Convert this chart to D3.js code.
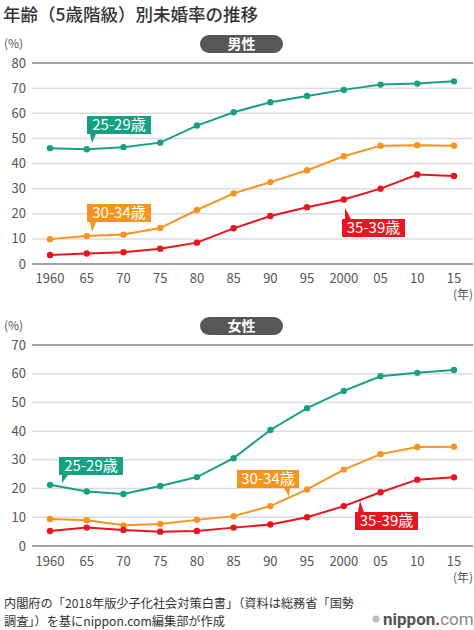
<!DOCTYPE html>
<html><head><meta charset="utf-8">
<script src="https://cdn.jsdelivr.net/npm/d3@7"></script>
<style>
html,body{margin:0;padding:0;background:#fff;}
svg{display:block;font-family:"Noto Sans CJK JP","Noto Sans",sans-serif;}
</style></head>
<body>
<svg id="c" width="474" height="630"></svg>
<script>
const years = ["1960","65","70","75","80","85","90","95","2000","05","10","15"];
const groups = ["25-29歳","30-34歳","35-39歳"];
const men25 = [46.1,45.7,46.5,48.3,55.1,60.4,64.4,66.9,69.3,71.4,71.8,72.7];
const men30 = [9.9,11.1,11.7,14.3,21.5,28.1,32.6,37.3,42.9,47.1,47.3,47.1];
const men35 = [3.6,4.2,4.7,6.1,8.5,14.2,19.1,22.6,25.7,30.0,35.6,35.0];
const women25 = [21.3,19.0,18.1,20.9,24.0,30.6,40.4,48.0,54.0,59.1,60.3,61.3];
const women30 = [9.4,9.0,7.2,7.7,9.1,10.4,13.9,19.7,26.6,32.0,34.5,34.6];
const women35 = [5.2,6.4,5.6,5.0,5.2,6.4,7.5,10.0,13.9,18.7,23.1,23.9];
const menTicks = [0,10,20,30,40,50,60,70,80];
const womenTicks = [0,10,20,30,40,50,60,70];
const colors = ["#16a183","#f7941e","#e8141f"];

const svg = d3.select("#c");
const x = d3.scalePoint().domain(years).range([50,454]);

svg.append("text").attr("x",3).attr("y",20.5).attr("font-size",17.5).attr("fill","#333")
  .attr("font-weight",500).text("年齢（5歳階級）別未婚率の推移");

function panel(opts){
  const {top,bottom,max,ticks,series,title,titleY,labels,nenY,xlabY} = opts;
  const y = d3.scaleLinear().domain([0,max]).range([bottom,top]);
  const g = svg.append("g");
  g.selectAll("line.grid").data(ticks).join("line")
    .attr("x1",32).attr("x2",473)
    .attr("y1",d=>y(d)).attr("y2",d=>y(d))
    .attr("stroke",d=> (d===0||d===max) ? "#a0a0a0" : "#dcdcdc")
    .attr("stroke-width",d=> (d===0||d===max) ? 2 : 1.5);
  g.selectAll("text.yt").data(ticks).join("text")
    .attr("x",26).attr("y",d=>y(d)).attr("dy","0.35em")
    .attr("text-anchor","end").attr("font-size",13).attr("fill","#555").text(d=>d);
  g.append("text").attr("x",4).attr("y",titleY).attr("dy","0.35em").attr("font-size",12).attr("fill","#555").text("(%)");
  g.append("rect").attr("x",200).attr("y",titleY-9).attr("width",83).attr("height",18).attr("rx",9).attr("fill","#575757");
  g.append("text").attr("x",241.5).attr("y",titleY).attr("dy","0.36em").attr("text-anchor","middle")
    .attr("font-size",14).attr("font-weight",700).attr("fill","#fff").text(title);
  g.selectAll("text.xt").data(years).join("text")
    .attr("x",d=>x(d)).attr("y",xlabY).attr("dy","0.35em").attr("text-anchor","middle")
    .attr("font-size",13).attr("fill","#555").text(d=>d);
  g.append("text").attr("x",473).attr("y",nenY).attr("dy","0.35em").attr("text-anchor","end")
    .attr("font-size",12).attr("fill","#555").text("(年)");
  const line = d3.line().x((d,i)=>x(years[i])).y(d=>y(d));
  series.forEach((s,k)=>{
    g.append("path").datum(s).attr("d",line).attr("fill","none")
      .attr("stroke",colors[k]).attr("stroke-width",2);
    g.selectAll(null).data(s).join("circle")
      .attr("cx",(d,i)=>x(years[i])).attr("cy",d=>y(d)).attr("r",3.2).attr("fill",colors[k]);
  });
  labels.forEach((L,k)=>{
    const [bx,by,bw,bh,b1,b2,tx,ty] = L;
    const baseY = ty > by ? by+bh : by;
    g.append("path").attr("d",`M${b1},${baseY}L${b2},${baseY}L${tx},${ty}Z`).attr("fill",colors[k]);
    g.append("rect").attr("x",bx).attr("y",by).attr("width",bw).attr("height",bh).attr("fill",colors[k]);
    g.append("text").attr("x",bx+bw/2).attr("y",by+bh/2).attr("dy","0.36em").attr("text-anchor","middle")
      .attr("font-size",15).attr("fill","#fff").text(groups[k]);
  });
}

panel({top:63,bottom:264,max:80,ticks:menTicks,series:[men25,men30,men35],title:"男性",titleY:44,
  xlabY:278,nenY:295,
  labels:[[87,116,64,18,90,96,92,143],[87,204,64,18,90,96,92,232],[342,219,63,18,345,351,345,208]]});
panel({top:345,bottom:546,max:70,ticks:womenTicks,series:[women25,women30,women35],title:"女性",titleY:326,
  xlabY:561,nenY:578,
  labels:[[59,457,64,18,62,68,62,483],[237,470,62,18,284,290,289,497],[355,512,63,18,358,364,360,501]]});

svg.append("text").attr("x",4).attr("y",604).attr("dy","0.35em").attr("font-size",12.2).attr("fill","#333")
  .text("内閣府の「2018年版少子化社会対策白書」（資料は総務省「国勢");
svg.append("text").attr("x",4).attr("y",622).attr("dy","0.35em").attr("font-size",12.2).attr("fill","#333")
  .text("調査」）を基にnippon.com編集部が作成");
const lg = svg.append("g");
lg.append("circle").attr("cx",376).attr("cy",619).attr("r",3.5).attr("fill","#bbb");
const lt = lg.append("text").attr("x",383).attr("y",619).attr("dy","0.35em").attr("font-size",17).attr("font-family","Roboto,sans-serif");
lt.append("tspan").attr("font-weight",700).attr("fill","#555").text("nippon");
lt.append("tspan").attr("font-weight",700).attr("fill","#e8141f").text(".");
lt.append("tspan").attr("fill","#888").text("com");
</script>
</body></html>
